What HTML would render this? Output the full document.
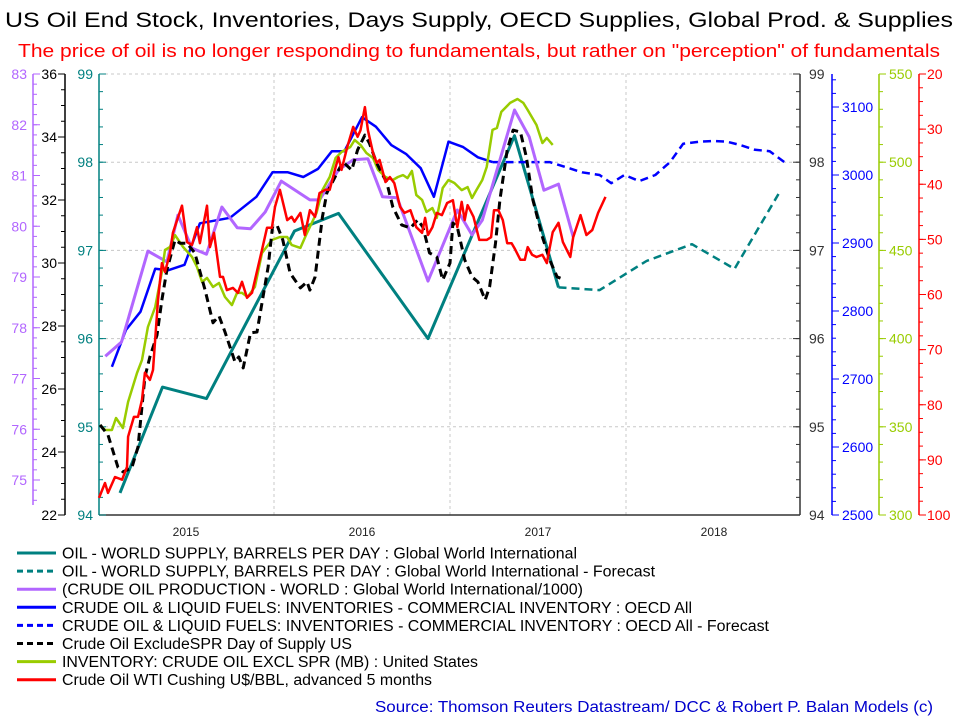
<!DOCTYPE html>
<html><head><meta charset="utf-8"><style>
html,body{margin:0;padding:0;background:#fff;}
svg{display:block;font-family:"Liberation Sans",Arial,sans-serif;}
</style></head><body>
<svg id="chart" width="956" height="716" viewBox="0 0 956 716" xmlns="http://www.w3.org/2000/svg">
<text x="5" y="27" font-size="21" fill="#000" textLength="948" lengthAdjust="spacingAndGlyphs">US Oil End Stock, Inventories, Days Supply, OECD Supplies, Global Prod. &amp; Supplies</text>
<text x="18" y="57" font-size="18.5" fill="#ff0000" textLength="922" lengthAdjust="spacingAndGlyphs">The price of oil is no longer responding to fundamentals, but rather on "perception" of fundamentals</text>
<g id="grid"></g><g id="axes"></g><g id="series"></g><g id="legend"></g>
<text x="375" y="712" font-size="15.5" fill="#0000cc" textLength="558" lengthAdjust="spacingAndGlyphs">Source: Thomson Reuters Datastream/ DCC &amp; Robert P. Balan Models (c)</text>
</svg>
<script>
// months since Jan 2015
const supplyMonths=[1.5,4.4,7.4,13.4,16.4,22.5,28.4,31.4];
const supplyValues=[94.25,95.45,95.32,97.22,97.42,96.0,98.30,96.58];
const supplyFcMonths=[31.4,34.2,37.4,40.5,43.4,46.4];
const supplyFcValues=[96.58,96.55,96.88,97.07,96.79,97.64];
const prodMonths=[0.5,1.6,3.4,4.7,5.45,6.4,7.4,8.45,9.5,10.4,11.4,12.5,14.45,15.1,16.4,17.4,18.4,19.4,20.4,22.5,24.5,25.5,26.2,28.4,29.4,30.4,31.4,32.4];
const prodValues=[77.44,77.72,79.51,79.30,80.22,79.57,79.45,80.38,79.97,79.95,80.28,80.89,80.52,80.52,81.11,81.31,81.33,80.58,80.56,78.92,80.32,79.83,80.12,82.29,81.76,80.71,80.83,79.79];
const invMonths=[0.95,1.9,2.9,3.9,4.8,5.9,6.95,9.0,10.8,11.9,12.95,14.0,15.0,15.95,16.8,18.0,18.95,20.0,21.0,22.0,22.9,23.9,24.9,25.9,26.9];
const invValues=[2718,2772,2799,2862,2860,2868,2929,2937,2968,3004,3004,2997,3009,3035,3035,3085,3071,3044,3031,3010,2968,3049,3041,3026,3019];
const invFcMonths=[26.9,30.8,33.0,34.2,35.0,35.9,36.9,38.0,39.0,39.9,41.0,41.9,42.9,43.8,44.8,45.8,46.8];
const invFcValues=[3019,3019,3004,3000,2988,3000,2991,3000,3019,3046,3049,3050,3049,3044,3037,3035,3019];
const daysMonths=[0.14,0.68,1.36,1.7,2.3,2.73,3.2,3.54,4.02,4.36,4.7,5.25,5.59,6.07,6.6,7.3,7.84,8.25,8.66,9.34,9.6,9.9,10.4,10.84,11.25,11.6,11.9,12.2,12.6,13.1,13.8,14.25,14.45,14.8,15.3,15.6,16.3,16.7,17.3,17.7,18.2,18.5,19.0,19.7,20.1,20.7,21.3,21.8,22.15,22.6,23.1,23.5,24.0,24.2,24.5,25.0,25.5,25.9,26.4,26.7,27.1,27.4,27.9,28.3,28.8,29.2,29.65,30.3,30.8,31.3,31.7];
const daysValues=[24.86,24.54,23.52,23.37,23.49,24.16,26.38,27.02,27.71,28.83,29.78,30.73,30.63,30.63,30.32,29.14,28.10,28.32,27.81,26.86,27.02,26.67,27.78,27.81,28.92,29.87,31.14,31.21,30.73,29.68,29.21,29.40,29.14,29.56,31.46,32.22,32.86,33.21,32.95,33.59,34.06,33.81,33.17,32.54,31.78,31.21,31.11,31.37,31.14,30.32,30.19,29.46,30.0,31.27,31.14,30.10,29.56,29.40,28.83,29.24,30.63,32.0,33.59,34.22,34.16,33.37,32.0,30.83,30.10,29.56,29.49];
const stockMonths=[0.14,0.48,0.95,1.23,1.7,2.05,2.66,3.0,3.4,3.9,4.36,4.57,4.91,5.25,5.8,6.41,6.75,7.1,7.43,7.84,8.25,8.66,9.13,9.48,9.82,10.2,10.7,11.18,11.86,12.4,12.9,13.2,13.8,14.25,14.9,15.3,15.8,16.2,16.6,17.2,17.5,17.9,18.3,18.75,19.1,19.6,20.1,20.45,20.8,21.1,21.4,21.7,22.1,22.4,22.8,23.1,23.5,23.9,24.3,24.8,25.2,25.5,25.8,26.2,26.5,26.9,27.2,27.5,28.1,28.6,29.0,29.3,29.9,30.3,30.6,31.0];
const stockValues=[351.0,348.2,348.2,355.0,349.3,364.1,380.5,387.9,406.6,417.9,437.8,450.2,451.9,458.7,451.9,446.3,440.6,432.1,434.4,429.3,431.5,423.6,419.0,425.9,425.9,423.6,429.3,448.5,455.9,457.6,457.6,453.1,451.4,459.9,471.2,484.2,491.6,502.4,505.8,508.6,512.6,509.8,505.2,502.4,495.6,491.6,489.9,491.6,492.7,491.0,495.0,481.4,478.6,471.8,474.0,468.4,485.4,489.9,488.2,484.2,485.9,479.7,484.2,489.9,497.3,518.3,519.4,528.5,533.6,535.8,533.6,529.6,521.1,510.9,513.7,509.8];
const wtiMonths=[0.07,0.48,0.68,1.16,1.64,1.98,2.05,2.45,2.73,3.0,3.2,3.54,3.75,4.09,4.36,4.57,4.91,5.11,5.39,5.73,6.07,6.41,6.75,6.95,7.43,7.63,7.91,8.32,8.52,8.79,9.2,9.54,9.82,10.16,10.5,10.91,11.18,11.52,11.86,12.07,12.4,12.9,13.2,13.4,13.8,14.1,14.45,14.8,15.1,15.5,15.8,16.2,16.4,16.6,17.0,17.4,17.7,17.9,18.2,18.4,18.75,19.0,19.2,19.6,19.9,20.2,20.6,20.9,21.3,21.7,22.1,22.3,22.5,22.8,23.1,23.45,23.8,24.2,24.5,24.8,25.0,25.2,25.6,26.0,26.5,26.8,27.0,27.3,27.6,27.9,28.2,28.4,28.8,29.1,29.3,29.6,29.9,30.3,30.6,31.0,31.4,31.7,32.2,32.4,32.9,33.3,33.7,34.1,34.6];
const wtiValues=[96.9,94.2,96.0,93.1,93.6,91.3,85.8,82.2,82.2,79.1,74.2,75.5,73.7,61.0,54.3,55.9,52.5,48.8,46.5,43.9,50.5,51.0,47.8,50.7,43.9,51.4,48.8,56.8,56.8,59.2,58.8,59.7,57.7,60.6,59.7,55.0,51.9,47.9,47.9,44.1,41.0,46.5,45.9,46.8,45.2,49.2,44.7,45.9,41.6,41.0,41.0,36.9,35.1,37.4,33.2,29.6,31.4,30.2,26.0,30.2,34.3,36.1,35.6,39.6,38.7,39.8,44.1,45.2,44.7,47.8,48.8,46.1,49.2,47.8,45.2,45.6,43.4,42.9,47.8,43.2,46.5,43.8,45.9,50.1,50.1,49.6,44.7,44.7,46.5,50.7,50.7,51.6,53.7,53.7,51.4,52.8,53.2,52.8,54.3,48.7,47.0,50.5,53.2,49.6,45.6,49.2,48.3,45.2,42.3];
const yearLabels=["2015","2016","2017","2018"];

const NS="http://www.w3.org/2000/svg";
const X0=98, PX_PER_MONTH=176/12, TOP=74, BOT=515, L=99, R=800;
const xs=m=>X0+m*PX_PER_MONTH;
function lin(v0,v1){return v=>BOT-(v-v0)/(v1-v0)*(BOT-TOP);}
const yTeal=lin(94,99), yDays=lin(22,36), yInv=lin(2500,2500+(BOT-TOP)/0.68), yStock=lin(300,550);
const yWti=v=>TOP+(v-20)/80*(BOT-TOP);
const yProd=v=>TOP+(83-v)*50.75;
function mk(tag,attrs,parent){const e=document.createElementNS(NS,tag);for(const k in attrs)e.setAttribute(k,attrs[k]);parent.appendChild(e);return e;}
const grid=document.getElementById('grid'),axes=document.getElementById('axes'),series=document.getElementById('series'),legend=document.getElementById('legend');

[95,96,97,98,99].forEach(v=>{const l=mk('line',{x1:L,x2:R,y1:yTeal(v),y2:yTeal(v),stroke:'#c8c8c8','stroke-dasharray':'3,3'},grid);

});
[1,2,3].forEach(i=>{const l=mk('line',{x1:xs(12*i),x2:xs(12*i),y1:TOP,y2:BOT,stroke:'#c8c8c8','stroke-dasharray':'3,3'},grid);

});
const xa=mk('line',{x1:L,x2:R,y1:BOT,y2:BOT,stroke:'#333','stroke-width':1.5},axes);


yearLabels.forEach((t,i)=>{const e=mk('text',{x:xs(12*i+6),y:536,'text-anchor':'middle','font-size':12,fill:'#222'},axes);e.textContent=t;

});

function axis(name,x,y0,y1,color,majors,minorStep,vmin,vmax,yf,tickSide,labelSide,labelOff,fmt){
  const g=mk('g',{},axes);
  
  
  mk('line',{x1:x,x2:x,y1:y0,y2:y1,stroke:color,'stroke-width':1.5},g);
  for(let v=vmin;v<=vmax+1e-9;v+=minorStep){const y=yf(v);if(y<y0-1||y>y1+1)continue;mk('line',{x1:x,x2:x+tickSide*4,y1:y,y2:y,stroke:color},g);}
  majors.forEach(v=>{const y=yf(v);mk('line',{x1:x,x2:x+tickSide*7,y1:y,y2:y,stroke:color},g);
    const t=mk('text',{x:x+labelSide*labelOff,y:y+5,'text-anchor':labelSide<0?'end':'start','font-size':14,fill:color},g);t.textContent=fmt?fmt(v):v;});
}
axis('prod-axis',33,TOP,505,'#b266ff',[75,76,77,78,79,80,81,82,83],0.2,74.4,83,yProd,1,-1,6);
axis('days-axis-left',65,TOP,BOT,'#000',[22,24,26,28,30,32,34,36],0.5,22,36,yDays,-1,-1,8);
axis('supply-axis-left',99,TOP,BOT,'#008080',[94,95,96,97,98,99],0.2,94,99,yTeal,1,-1,6);
axis('supply-axis-right',800,TOP,BOT,'#333',[94,95,96,97,98,99],0.2,94,99,yTeal,-1,1,9);
axis('inventory-axis',832,TOP,BOT,'#0000ff',[2500,2600,2700,2800,2900,3000,3100],20,2500,3160,yInv,1,1,10);
axis('stock-axis',879,TOP,BOT,'#99cc00',[300,350,400,450,500,550],10,300,550,yStock,1,1,10);
axis('wti-axis',919,TOP,BOT,'#ff0000',[20,30,40,50,60,70,80,90,100],2.5,20,100,yWti,1,1,8);

function line(name,ms,vs,yf,color,w,dash){
  const d=ms.map((m,i)=>(i?'L':'M')+xs(m).toFixed(1)+','+yf(vs[i]).toFixed(1)).join(' ');
  const p=mk('path',{d:d,fill:'none',stroke:color,'stroke-width':w,'stroke-linejoin':'round'},series);
  if(dash)p.setAttribute('stroke-dasharray',dash);
  
  
}
line('world-supply-line',supplyMonths,supplyValues,yTeal,'#008080',3);
line('world-supply-forecast-line',supplyFcMonths,supplyFcValues,yTeal,'#008080',2.5,'8,5');
line('oecd-inventory-line',invMonths,invValues,yInv,'#0000ff',2.5);
line('oecd-inventory-forecast-line',invFcMonths,invFcValues,yInv,'#0000ff',2.5,'8,5');
line('world-production-line',prodMonths,prodValues,yProd,'#b266ff',3);
line('us-stock-line',stockMonths,stockValues,yStock,'#99cc00',2.5);
line('days-supply-line',daysMonths,daysValues,yDays,'#000',3,'8,5');
line('wti-price-line',wtiMonths,wtiValues,yWti,'#ff0000',2.5);

const legendItems=[
 ['OIL - WORLD SUPPLY, BARRELS PER DAY : Global World International','#008080','',515],
 ['OIL - WORLD SUPPLY, BARRELS PER DAY : Global World International - Forecast','#008080','6,4',593],
 ['(CRUDE OIL PRODUCTION - WORLD : Global World International/1000)','#b266ff','',521],
 ['CRUDE OIL & LIQUID FUELS: INVENTORIES - COMMERCIAL INVENTORY : OECD All','#0000ff','',630],
 ['CRUDE OIL & LIQUID FUELS: INVENTORIES - COMMERCIAL INVENTORY : OECD All - Forecast','#0000ff','6,4',707],
 ['Crude Oil ExcludeSPR Day of Supply US','#000','6,4',290],
 ['INVENTORY: CRUDE OIL EXCL SPR (MB) : United States','#99cc00','',416],
 ['Crude Oil WTI Cushing U$/BBL, advanced 5 months','#ff0000','',370]];
legendItems.forEach((it,i)=>{
  const y=553+i*18.1;
  const g=mk('g',{},legend);
  
  
  const ln=mk('line',{x1:17,x2:56,y1:y,y2:y,stroke:it[1],'stroke-width':3},g);
  if(it[2])ln.setAttribute('stroke-dasharray',it[2]);
  const t=mk('text',{x:62,y:y+5.5,'font-size':15.5,fill:'#000',textLength:it[3],lengthAdjust:'spacingAndGlyphs'},g);t.textContent=it[0];
});
</script>
</body></html>
